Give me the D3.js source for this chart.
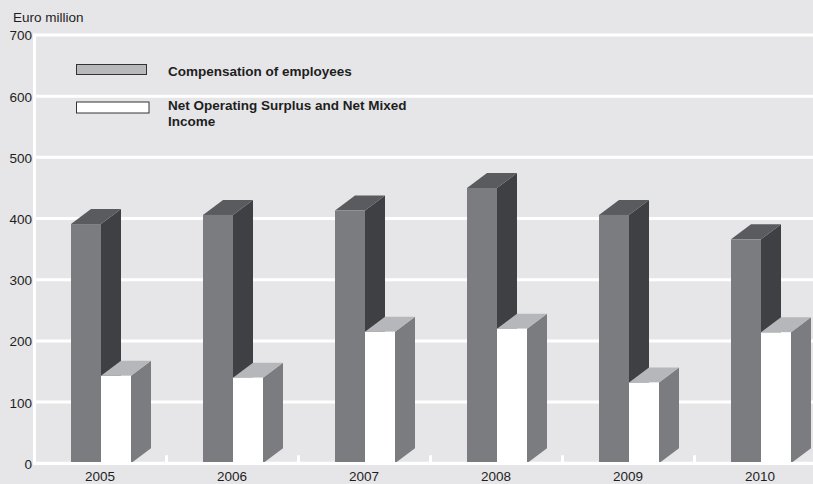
<!DOCTYPE html>
<html>
<head>
<meta charset="utf-8">
<script src="https://cdn.jsdelivr.net/npm/d3@7"></script>
<style>
  html, body { margin: 0; padding: 0; background: #e6e6e8; }
  svg { display: block; }
  text { font-family: "Liberation Sans", Arial, sans-serif; fill: #1e1e1e; }
</style>
</head>
<body>
<svg id="chart" width="813" height="484"></svg>
<script>
// Values in euro million
const years = ["2005", "2006", "2007", "2008", "2009", "2010"];
const compensation = [391, 406, 413, 450, 406, 366];
const surplus = [143, 140, 215, 220, 132, 214];
const yTicks = [0, 100, 200, 300, 400, 500, 600, 700];
const seriesNames = ["Compensation of employees", "Net Operating Surplus and Net Mixed Income"];

const W = 813, H = 484;
const svg = d3.select("#chart");

const x = d3.scaleBand().domain(years).range([34, 826]).padding(0);
const y = d3.scaleLinear().domain([0, 700]).range([463.3, 35]);

const bw = x.bandwidth();
const barW = 30, depthX = 20, depthY = 15;
const offDark = 37, offLight = 67;

svg.append("rect").attr("width", W).attr("height", H).attr("fill", "#e6e6e8");

// gridlines
svg.append("g").selectAll("line").data(yTicks).join("line")
  .attr("x1", 34).attr("x2", W)
  .attr("y1", d => y(d)).attr("y2", d => y(d))
  .attr("stroke", "#ffffff").attr("stroke-width", 3);

// left axis line
svg.append("line")
  .attr("x1", 34.5).attr("x2", 34.5)
  .attr("y1", y(700) - 1.5).attr("y2", y(0) + 1.5)
  .attr("stroke", "#ffffff").attr("stroke-width", 3);

// y tick labels
svg.append("g").selectAll("text").data(yTicks).join("text")
  .attr("x", 32).attr("y", d => y(d)).attr("dy", "0.4em")
  .attr("text-anchor", "end").attr("font-size", 13.5)
  .text(d => d);

svg.append("text").attr("x", 13).attr("y", 22).attr("font-size", 13.5).text("Euro million");

// 3D bar: front, side, top faces
function drawBar(g, x0, v, colors) {
  const top = y(v), bottom = y(0);
  g.append("polygon")
    .attr("points", [[x0 + barW, top], [x0 + barW + depthX, top - depthY],
                     [x0 + barW + depthX, bottom - depthY], [x0 + barW, bottom]].join(" "))
    .attr("fill", colors.side);
  g.append("polygon")
    .attr("points", [[x0, top], [x0 + depthX, top - depthY],
                     [x0 + barW + depthX, top - depthY], [x0 + barW, top]].join(" "))
    .attr("fill", colors.top);
  g.append("rect")
    .attr("x", x0).attr("y", top).attr("width", barW).attr("height", bottom - top)
    .attr("fill", colors.front);
}

const darkColors = { front: "#7b7c80", side: "#3f4044", top: "#5a5b5f" };
const lightColors = { front: "#ffffff", side: "#7b7c80", top: "#b6b7ba" };

const bars = svg.append("g");
years.forEach((yr, i) => {
  const g = bars.append("g");
  drawBar(g, x(yr) + offDark, compensation[i], darkColors);
  drawBar(g, x(yr) + offLight, surplus[i], lightColors);
});

// baseline and category ticks
svg.append("line")
  .attr("x1", 33).attr("x2", W)
  .attr("y1", y(0) + 0.2).attr("y2", y(0) + 0.2)
  .attr("stroke", "#ffffff").attr("stroke-width", 3);
svg.append("g").selectAll("rect").data(years.slice(1)).join("rect")
  .attr("x", d => x(d) - 1).attr("y", y(0) - 8).attr("width", 3).attr("height", 8)
  .attr("fill", "#ffffff");

// year labels
svg.append("g").selectAll("text").data(years).join("text")
  .attr("x", d => x(d) + bw / 2).attr("y", 480.5)
  .attr("text-anchor", "middle").attr("font-size", 13.5)
  .text(d => d);

// legend
const legend = svg.append("g");
legend.append("rect").attr("x", 76.5).attr("y", 64.5).attr("width", 70).attr("height", 10)
  .attr("fill", "#b8b9bb").attr("stroke", "#333333").attr("stroke-width", 1);
legend.append("text").attr("x", 168).attr("y", 76).attr("font-size", 13.5)
  .attr("font-weight", "bold").text(seriesNames[0]);
legend.append("rect").attr("x", 76.5).attr("y", 102).attr("width", 72.5).attr("height", 11)
  .attr("fill", "#ffffff").attr("stroke", "#333333").attr("stroke-width", 1);
const t2 = legend.append("text").attr("x", 168).attr("y", 109.5).attr("font-size", 13.5)
  .attr("font-weight", "bold");
t2.append("tspan").attr("x", 168).text("Net Operating Surplus and Net Mixed");
t2.append("tspan").attr("x", 168).attr("dy", 16.5).text("Income");
</script>
</body>
</html>
